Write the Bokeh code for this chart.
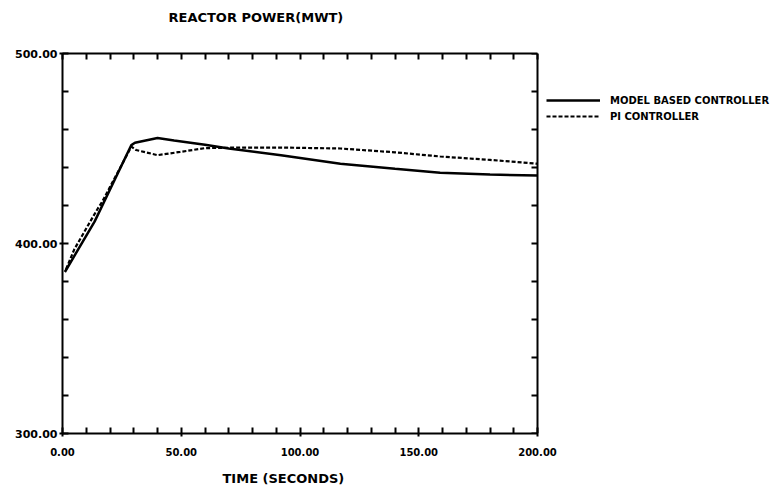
from bokeh.plotting import figure
from bokeh.models import (Range1d, LinearAxis, FixedTicker, NumeralTickFormatter,
                          Legend, LegendItem, Title)
from bokeh.embed import file_html
from bokeh.resources import INLINE

# ---- data ----
time_model = [1, 13.5, 29, 30.5, 40, 47, 60, 70, 92, 117, 140, 159, 180, 200]
power_model = [385, 411.5, 451.8, 453, 455.5, 454.2, 452, 450, 446.5, 442,
               439.3, 437.2, 436.3, 435.8]

time_pi = [1.5, 5, 10.5, 15, 16.5, 29, 31, 40, 49.5, 60, 75, 92, 117, 140,
           159, 180, 200]
power_pi = [386.5, 397, 409, 418.7, 421.5, 451, 449.2, 446.5, 448.2, 450.2,
            450.5, 450.5, 450, 448, 445.8, 444, 442]

x_major = [0, 50, 100, 150, 200]
x_minor = [10, 20, 30, 40, 60, 70, 80, 90, 110, 120, 130, 140, 160, 170, 180, 190]
y_major = [300, 400, 500]
y_minor = [320, 340, 360, 380, 420, 440, 460, 480]

title_text = "REACTOR POWER(MWT)"
x_label = "TIME  (SECONDS)"
label_model = "MODEL BASED CONTROLLER"
label_pi = "PI CONTROLLER"

FONT = "DejaVu Sans"

# frame spans 62..775 px; the data box (0..200 s) covers 62..537 px,
# leaving room on the right for the legend
X_END = 200 * (775 - 62) / (537 - 62)

p = figure(width=775, height=488, output_backend="svg", toolbar_location=None,
           x_range=Range1d(0, X_END), y_range=Range1d(300, 500),
           x_axis_type=None, y_axis_type=None,
           min_border_left=62, min_border_right=0,
           min_border_top=53, min_border_bottom=55)
p.outline_line_color = None
p.xgrid.visible = False
p.ygrid.visible = False
p.background_fill_color = "white"
p.border_fill_color = "white"

# title
p.title.text = title_text
p.title.align = "left"
p.title.offset = 106
p.title.standoff = 4
p.title.text_font = FONT
p.title.text_font_size = "13px"
p.title.text_font_style = "bold"
p.title.text_color = "black"


def style_axis(ax, ticks, labels=True):
    ax.axis_line_color = "black"
    ax.axis_line_width = 2
    ax.major_tick_line_color = "black"
    ax.major_tick_line_width = 2
    ax.minor_tick_line_color = "black"
    ax.minor_tick_line_width = 2
    ax.major_tick_in = 6
    ax.major_tick_out = 3
    ax.minor_tick_in = 6
    ax.minor_tick_out = 0
    ax.major_label_text_font = FONT
    ax.major_label_text_font_style = "bold"
    ax.major_label_text_font_size = "11px"
    ax.major_label_text_color = "black"
    ax.formatter = NumeralTickFormatter(format="0.00")
    if not labels:
        ax.major_tick_out = 0
        ax.major_label_standoff = 0
        ax.major_label_overrides = {t: "" for t in ticks}


def spacer_axis(size):
    # an invisible axis whose (transparent) outward ticks reserve space
    ax = LinearAxis(ticker=FixedTicker(ticks=[0]), bounds=(0, 200))
    ax.axis_line_alpha = 0
    ax.major_tick_line_alpha = 0
    ax.minor_tick_line_alpha = 0
    ax.major_tick_in = 0
    ax.major_tick_out = size
    ax.minor_tick_out = 0
    ax.major_label_standoff = 0
    ax.major_label_overrides = {0: ""}
    return ax


xb = LinearAxis(ticker=FixedTicker(ticks=x_major, minor_ticks=x_minor),
                bounds=(0, 200))
style_axis(xb, x_major)
xb.major_label_standoff = 11
xb.major_label_text_font_size = "10px"
p.add_layout(xb, "below")

p.add_layout(spacer_axis(8), "below")

xlabel_title = Title(text=x_label, align="left", offset=160, standoff=4,
                     text_font=FONT, text_font_style="bold",
                     text_font_size="13px", text_color="black")
p.add_layout(xlabel_title, "below")

xt = LinearAxis(ticker=FixedTicker(ticks=x_major, minor_ticks=x_minor),
                bounds=(0, 200))
style_axis(xt, x_major, labels=False)
p.add_layout(xt, "above")
p.add_layout(spacer_axis(27), "above")

yl = LinearAxis(ticker=FixedTicker(ticks=y_major, minor_ticks=y_minor))
style_axis(yl, y_major)
yl.major_label_standoff = 2
p.add_layout(yl, "left")

yr = LinearAxis(ticker=FixedTicker(ticks=y_major, minor_ticks=y_minor),
                fixed_location=200)
style_axis(yr, y_major, labels=False)
p.add_layout(yr, "right")

r_model = p.line(time_model, power_model, line_color="black", line_width=2.5)
r_pi = p.line(time_pi, power_pi, line_color="black", line_width=2.2,
              line_dash="4 2")

legend = Legend(items=[LegendItem(label=label_model, renderers=[r_model]),
                       LegendItem(label=label_pi, renderers=[r_pi])],
                location=(484, 309), padding=0, margin=0, spacing=0,
                glyph_width=54, glyph_height=16, label_height=16,
                label_standoff=10,
                label_text_font=FONT, label_text_font_style="bold",
                label_text_font_size="10px", label_text_color="black",
                border_line_alpha=0, background_fill_alpha=0)
p.add_layout(legend, "center")

open("out.html", "w").write(file_html(p, INLINE))
